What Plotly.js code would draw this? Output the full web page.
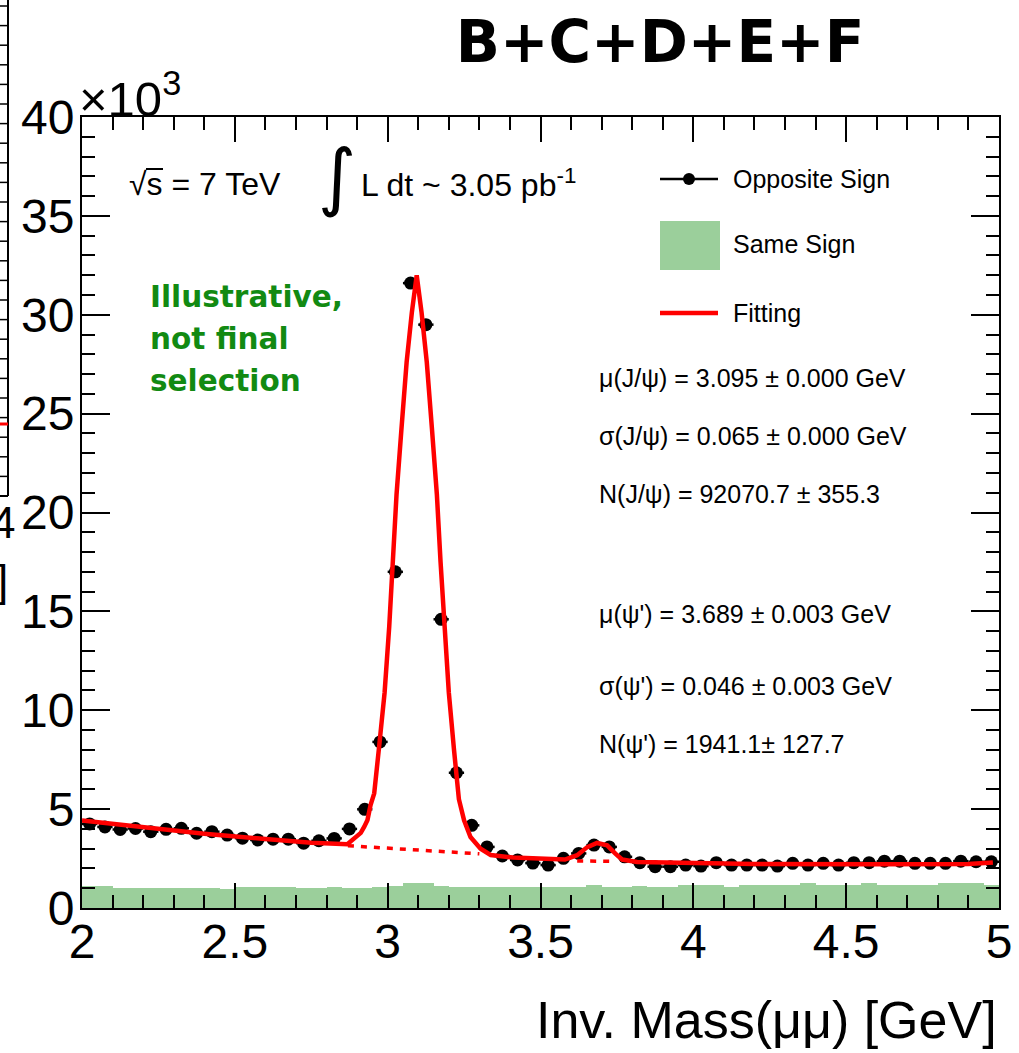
<!DOCTYPE html>
<html>
<head>
<meta charset="utf-8">
<script src="https://cdn.plot.ly/plotly-3.0.1.min.js"></script>
<style>html,body{margin:0;padding:0;background:#fff;}#chart{width:1019px;height:1053px;}</style>
</head>
<body>
<div id="chart"></div>
<script>
// ---------- data ----------
const massCenters = [2.025,2.075,2.125,2.175,2.225,2.275,2.325,2.375,2.425,2.475,
  2.525,2.575,2.625,2.675,2.725,2.775,2.825,2.875,2.925,2.975,
  3.025,3.075,3.125,3.175,3.225,3.275,3.325,3.375,3.425,3.475,
  3.525,3.575,3.625,3.675,3.725,3.775,3.825,3.875,3.925,3.975,
  4.025,4.075,4.125,4.175,4.225,4.275,4.325,4.375,4.425,4.475,
  4.525,4.575,4.625,4.675,4.725,4.775,4.825,4.875,4.925,4.975];

const oppositeSign = [4250,4100,3970,4020,3860,3980,4030,3780,3860,3690,
  3530,3440,3480,3480,3280,3400,3520,4000,4990,8400,
  17000,31600,29500,14600,6840,4180,3090,2630,2430,2270,
  2170,2510,2760,3180,3090,2590,2290,2090,2090,2170,
  2120,2290,2170,2170,2170,2120,2260,2170,2260,2170,
  2290,2290,2370,2370,2260,2260,2260,2370,2340,2340];

const sameSign = [1110,1110,1020,1020,1020,1020,1020,1020,1020,960,
  1040,1040,1040,1040,990,990,1070,1000,990,1070,
  1110,1240,1240,1100,1050,1070,1070,1070,1070,1050,
  1040,1040,1040,1140,1070,1070,1120,1040,1040,1140,
  1140,1140,1040,1140,1140,1140,1140,1240,1140,1140,
  1140,1240,1140,1140,1140,1140,1240,1240,1240,1140];

const fitMass = [2.00,2.18,2.40,2.62,2.75,2.868,2.896,2.912,2.923,2.934,2.944,2.956,2.973,2.990,
  3.005,3.017,3.029,3.045,3.062,3.079,3.095,3.111,3.128,3.145,3.161,3.173,3.185,3.200,
  3.217,3.233,3.250,3.271,3.304,3.337,3.41,3.50,3.58,3.62,3.653,3.685,3.718,3.745,3.767,
  3.816,3.97,4.20,4.60,4.90,4.98];
const fitCounts = [4430,4130,3760,3460,3300,3220,3560,3800,4100,4450,5200,5800,8300,10900,
  14200,17500,20900,24200,27600,30100,32000,30100,27600,24200,20900,17500,14200,10900,
  8000,5500,4430,3590,3000,2680,2550,2470,2450,2670,3080,3290,3170,2750,2450,
  2330,2280,2220,2210,2220,2300];

const bkgMass = [2.870,3.300,null,3.620,3.745];
const bkgCounts = [3150,2740,null,2380,2360];

const xTickVals = [2,2.5,3,3.5,4,4.5,5];
const xTickText = ['2','2.5','3','3.5','4','4.5','5'];
const yTickVals = [0,5000,10000,15000,20000,25000,30000,35000,40000];
const yTickText = ['0','5','10','15','20','25','30','35','40'];

const legendLabels = ['Opposite Sign','Same Sign','Fitting'];
const noteLines = ['Illustrative,','not final','selection'];
const statLines = ['μ(J/ψ) = 3.095 ± 0.000 GeV','σ(J/ψ) = 0.065 ± 0.000 GeV','N(J/ψ) = 92070.7 ± 355.3',
  'μ(ψ\') = 3.689 ± 0.003 GeV','σ(ψ\') = 0.046 ± 0.003 GeV','N(ψ\') = 1941.1± 127.7'];

// ---------- geometry helpers (pixel -> paper) ----------
const L = 82, R = 999, T = 117, B = 908;
const px = x => (x - L) / (R - L);
const py = y => (B - y) / (B - T);
const FONT = 'Liberation Sans, Arial, sans-serif';

const traces = [
  {type:'bar', x:massCenters, y:sameSign, width:0.05, marker:{color:'#9bcf9b', line:{width:0}},
   name:legendLabels[1], showlegend:false, hoverinfo:'skip'},
  {type:'scatter', mode:'markers', x:massCenters, y:oppositeSign, name:legendLabels[0],
   marker:{symbol:'circle', size:13, color:'#000'},
   error_x:{type:'constant', value:0.025, thickness:2.5, width:0, color:'#000'}, showlegend:false},
  {type:'scatter', mode:'lines', x:bkgMass, y:bkgCounts, connectgaps:false,
   line:{color:'#ff0000', width:3.5, dash:'6px,7px'}, showlegend:false, hoverinfo:'skip'},
  {type:'scatter', mode:'lines', x:fitMass, y:fitCounts, name:legendLabels[2],
   line:{color:'#ff0000', width:4.5}, showlegend:false}
];

const annotations = [];
// x10^3
annotations.push({xref:'paper', yref:'paper', x:px(77), y:py(95), xanchor:'left', yanchor:'middle',
  text:'×10<sup>3</sup>', showarrow:false, font:{family:FONT, size:49, color:'#000'}});
// sqrt(s)
annotations.push({xref:'paper', yref:'paper', x:px(127), y:py(184), xanchor:'left', yanchor:'middle',
  text:'√s = 7 TeV', showarrow:false, font:{family:FONT, size:32, color:'#000'}});
annotations.push({xref:'paper', yref:'paper', x:px(337), y:py(176), xanchor:'center', yanchor:'middle',
  text:'∫', showarrow:false, font:{family:'DejaVu Sans, sans-serif', size:74, color:'#000'}});
annotations.push({xref:'paper', yref:'paper', x:px(359), y:py(183), xanchor:'left', yanchor:'middle',
  text:'L dt ~ 3.05 pb<sup>-1</sup>', showarrow:false, font:{family:FONT, size:32, color:'#000'}});
// green note, one annotation per line
const noteY = [297,339,381];
noteLines.forEach((t,i) => annotations.push({xref:'paper', yref:'paper', x:px(148), y:py(noteY[i]),
  xanchor:'left', yanchor:'middle', text:'<b>'+t+'</b>', showarrow:false,
  font:{family:'DejaVu Sans, sans-serif', size:29.5, color:'#128a12'}}));
// stats
const statY = [378,436,494,614,686,744];
statLines.forEach((t,i) => annotations.push({xref:'paper', yref:'paper', x:px(597), y:py(statY[i]),
  xanchor:'left', yanchor:'middle', text:t, showarrow:false, font:{family:FONT, size:25, color:'#000'}}));
// legend labels
const legY = [179,244,313];
legendLabels.forEach((t,i) => annotations.push({xref:'paper', yref:'paper', x:px(731), y:py(legY[i]),
  xanchor:'left', yanchor:'middle', text:t, showarrow:false, font:{family:FONT, size:25, color:'#000'}}));
// x axis title (right aligned like ROOT)
annotations.push({xref:'paper', yref:'paper', x:px(999), y:py(1020), xanchor:'right', yanchor:'middle',
  text:'Inv. Mass(μμ) [GeV]', showarrow:false, font:{family:FONT, size:52, color:'#000'}});
// fragment of the neighbouring pad on the left edge
annotations.push({xref:'paper', yref:'paper', x:px(17), y:py(522), xanchor:'right', yanchor:'middle',
  text:'4', showarrow:false, font:{family:FONT, size:44, color:'#000'}});
annotations.push({xref:'paper', yref:'paper', x:px(10), y:py(580), xanchor:'right', yanchor:'middle',
  text:']', showarrow:false, font:{family:FONT, size:44, color:'#000'}});

const shapes = [];
// overbar of the square root
shapes.push({type:'line', xref:'paper', yref:'paper', x0:px(146), x1:px(163), y0:py(169), y1:py(169),
  line:{color:'#000', width:2}});
// legend symbols
shapes.push({type:'line', xref:'paper', yref:'paper', x0:px(660), x1:px(718), y0:py(179), y1:py(179),
  line:{color:'#000', width:2.5}});
shapes.push({type:'circle', xref:'paper', yref:'paper', x0:px(683), x1:px(695), y0:py(185), y1:py(173),
  fillcolor:'#000', line:{width:0}});
shapes.push({type:'rect', xref:'paper', yref:'paper', x0:px(660), x1:px(720), y0:py(270), y1:py(221),
  fillcolor:'#9bcf9b', line:{width:0}});
shapes.push({type:'line', xref:'paper', yref:'paper', x0:px(660), x1:px(718), y0:py(313), y1:py(313),
  line:{color:'#ff0000', width:4.5}});
// neighbouring pad frame fragment
shapes.push({type:'line', xref:'paper', yref:'paper', x0:px(8), x1:px(8), y0:py(0), y1:py(496), line:{color:'#000', width:2}});
shapes.push({type:'line', xref:'paper', yref:'paper', x0:px(-2), x1:px(8), y0:py(496), y1:py(496), line:{color:'#000', width:2}});
for (let k = 1; k <= 25; k++) {
  const yy = 496 - 19.6 * k;
  shapes.push({type:'line', xref:'paper', yref:'paper', x0:px(-2), x1:px(8), y0:py(yy), y1:py(yy), line:{color:'#000', width:1.5}});
}
shapes.push({type:'line', xref:'paper', yref:'paper', x0:px(-2), x1:px(8), y0:py(424), y1:py(424), line:{color:'#ff0000', width:3}});

const axisCommon = {
  showgrid:false, zeroline:false, showline:true, linecolor:'#000', linewidth:2, mirror:'allticks',
  ticks:'inside', tickcolor:'#000', tickwidth:2, tickmode:'array',
  tickfont:{family:FONT, size:48, color:'#000'}
};

const layout = {
  width:1019, height:1053,
  margin:{l:L, r:1019-R, t:T, b:1053-B, pad:0},
  paper_bgcolor:'#fff', plot_bgcolor:'#fff',
  showlegend:false, bargap:0,
  title:{text:'<b>B+C+D+E+F</b>', x:px(660), xref:'paper', xanchor:'center', y:1-42/1053, yref:'container', yanchor:'middle',
    font:{family:'DejaVu Sans, sans-serif', size:58, color:'#000'}},
  xaxis:Object.assign({}, axisCommon, {range:[2,5], tickvals:xTickVals, ticktext:xTickText, ticklen:25,
    ticklabelstandoff:-10,
    minor:{dtick:0.1, tick0:2, ticklen:13, tickwidth:2, tickcolor:'#000', ticks:'inside', showgrid:false}}),
  yaxis:Object.assign({}, axisCommon, {range:[0,40000], tickvals:yTickVals, ticktext:yTickText, ticklen:28,
    ticklabelstandoff:-4,
    minor:{dtick:1000, tick0:0, ticklen:13, tickwidth:2, tickcolor:'#000', ticks:'inside', showgrid:false}}),
  annotations:annotations,
  shapes:shapes
};

Plotly.newPlot('chart', traces, layout, {staticPlot:true, displayModeBar:false});
</script>
</body>
</html>
